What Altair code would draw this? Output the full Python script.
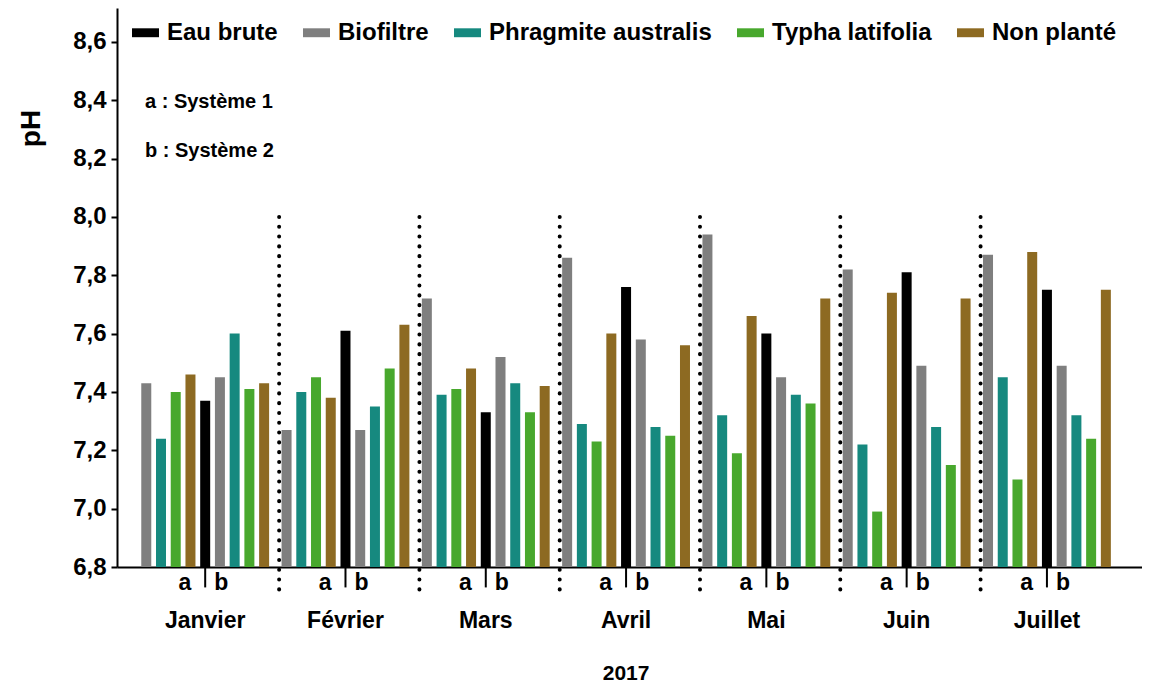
import altair as alt
import pandas as pd

# ---- data ----
months = ["Janvier", "Février", "Mars", "Avril", "Mai", "Juin", "Juillet"]
series_order = ["Eau brute", "Biofiltre", "Phragmite australis", "Typha latifolia", "Non planté"]
series_colors = ["#000000", "#7f7f7f", "#16897f", "#48a82d", "#8d6a22"]

eau_brute = [7.37, 7.61, 7.33, 7.76, 7.60, 7.81, 7.75]
biofiltre_a = [7.43, 7.27, 7.72, 7.86, 7.94, 7.82, 7.87]
phragmite_a = [7.24, 7.40, 7.39, 7.29, 7.32, 7.22, 7.45]
typha_a = [7.40, 7.45, 7.41, 7.23, 7.19, 6.99, 7.10]
non_plante_a = [7.46, 7.38, 7.48, 7.60, 7.66, 7.74, 7.88]
biofiltre_b = [7.45, 7.27, 7.52, 7.58, 7.45, 7.49, 7.49]
phragmite_b = [7.60, 7.35, 7.43, 7.28, 7.39, 7.28, 7.32]
typha_b = [7.41, 7.48, 7.33, 7.25, 7.36, 7.15, 7.24]
non_plante_b = [7.43, 7.63, 7.42, 7.56, 7.72, 7.72, 7.75]

y_ticks = [6.8, 7.0, 7.2, 7.4, 7.6, 7.8, 8.0, 8.2, 8.4, 8.6]
systems_note = ["a : Système 1", "b : Système 2"]
year_label = "2017"

# bar slots within a month: (series, values)
slots = [
    ("Biofiltre", biofiltre_a),
    ("Phragmite australis", phragmite_a),
    ("Typha latifolia", typha_a),
    ("Non planté", non_plante_a),
    ("Eau brute", eau_brute),
    ("Biofiltre", biofiltre_b),
    ("Phragmite australis", phragmite_b),
    ("Typha latifolia", typha_b),
    ("Non planté", non_plante_b),
]
STEP = 0.105  # slot spacing in month units

rows = []
for mi, m in enumerate(months):
    for si, (name, vals) in enumerate(slots):
        rows.append({"month": m, "pos": mi + (si - 4) * STEP, "serie": name, "ph": vals[mi]})
bars_df = pd.DataFrame(rows)

month_df = pd.DataFrame({"month": months, "idx": list(range(len(months)))})
sep_df = pd.DataFrame({"sep": [i + 0.527 for i in range(len(months) - 1)]})
ab_rows = []
for i in range(len(months)):
    ab_rows.append({"x": i - 0.145, "t": "a"})
    ab_rows.append({"x": i + 0.115, "t": "b"})
ab_df = pd.DataFrame(ab_rows)
note_df = pd.DataFrame({"t": systems_note, "yy": [100, 149]})

FONT = "Liberation Sans"
xscale = alt.Scale(domain=[-0.593, 6.642], nice=False, zero=False)
yscale = alt.Scale(domain=[6.8, 8.716], nice=False, zero=False)
xaxis = alt.Axis(labels=False, ticks=False, grid=False, title=None, domain=True,
                 domainColor="black", domainWidth=2)
yaxis = alt.Axis(values=y_ticks, labelExpr="replace(format(datum.value, '.1f'), '.', ',')",
                 grid=False, domainColor="black", domainWidth=2, tickColor="black",
                 tickWidth=2, tickSize=6, labelFontSize=24, labelFont=FONT,
                 labelFontWeight="bold", labelColor="black", labelPadding=5,
                 title="pH", titleFont=FONT, titleFontSize=28, titleFontWeight="bold",
                 titleColor="black", titleAngle=270, titleX=-86, titleY=120,
                 titleAlign="center", titleBaseline="middle")

bars = alt.Chart(bars_df).mark_bar(width=10).encode(
    x=alt.X("pos:Q", scale=xscale, axis=xaxis),
    y=alt.Y("ph:Q", scale=yscale, axis=yaxis),
    y2=alt.datum(6.8),
    color=alt.Color("serie:N", scale=alt.Scale(domain=series_order, range=series_colors),
                    legend=alt.Legend(orient="none", legendX=15, legendY=11,
                                      direction="horizontal", columns=5, title=None,
                                      labelFontSize=24, labelFont=FONT, labelFontWeight="bold",
                                      labelColor="black", labelLimit=400,
                                      symbolType="M-1,-0.33H1V0.33H-1Z", symbolSize=729,
                                      symbolStrokeWidth=0, symbolOpacity=1,
                                      labelOffset=8, columnPadding=25)),
)

seps = alt.Chart(sep_df).mark_rule(strokeDash=[0.1, 9.7], strokeCap="round",
                                   strokeWidth=4, color="black").encode(
    x=alt.X("sep:Q", scale=xscale, axis=xaxis),
    y=alt.datum(8.0),
    y2=alt.datum(6.693),
)

ab_ticks = alt.Chart(month_df).mark_rule(strokeWidth=2, color="black").encode(
    x=alt.X("idx:Q", scale=xscale, axis=xaxis),
    y=alt.datum(6.8),
    y2=alt.datum(6.73),
)

ab_text = alt.Chart(ab_df).mark_text(font=FONT, fontSize=23, fontWeight="bold",
                                     color="black", align="center", baseline="alphabetic").encode(
    x=alt.X("x:Q", scale=xscale, axis=xaxis),
    y=alt.value(582),
    text="t:N",
)

month_text = alt.Chart(month_df).mark_text(font=FONT, fontSize=23, fontWeight="bold",
                                           color="black", align="center",
                                           baseline="alphabetic").encode(
    x=alt.X("idx:Q", scale=xscale, axis=xaxis),
    y=alt.value(620),
    text="month:N",
)

year_text = alt.Chart(pd.DataFrame({"t": [year_label], "x": [3]})).mark_text(
    font=FONT, fontSize=21, fontWeight="bold", color="black", align="center",
    baseline="alphabetic").encode(
    x=alt.X("x:Q", scale=xscale, axis=xaxis),
    y=alt.value(672),
    text="t:N",
)

note_text = alt.Chart(note_df).mark_text(font=FONT, fontSize=20, fontWeight="bold",
                                         color="black", align="left",
                                         baseline="alphabetic").encode(
    x=alt.value(28),
    y=alt.Y("yy:Q", scale=None, axis=None),
    text="t:N",
)

chart = alt.layer(bars, seps, ab_ticks, ab_text, month_text, year_text, note_text).properties(
    width=1025, height=559,
    padding={"left": 109, "top": 0, "right": 0, "bottom": 117},
    autosize=alt.AutoSizeParams(type="none"),
    background="white",
).configure_view(stroke=None)

chart.save("out.html", embed_options={"renderer": "svg", "actions": False})
